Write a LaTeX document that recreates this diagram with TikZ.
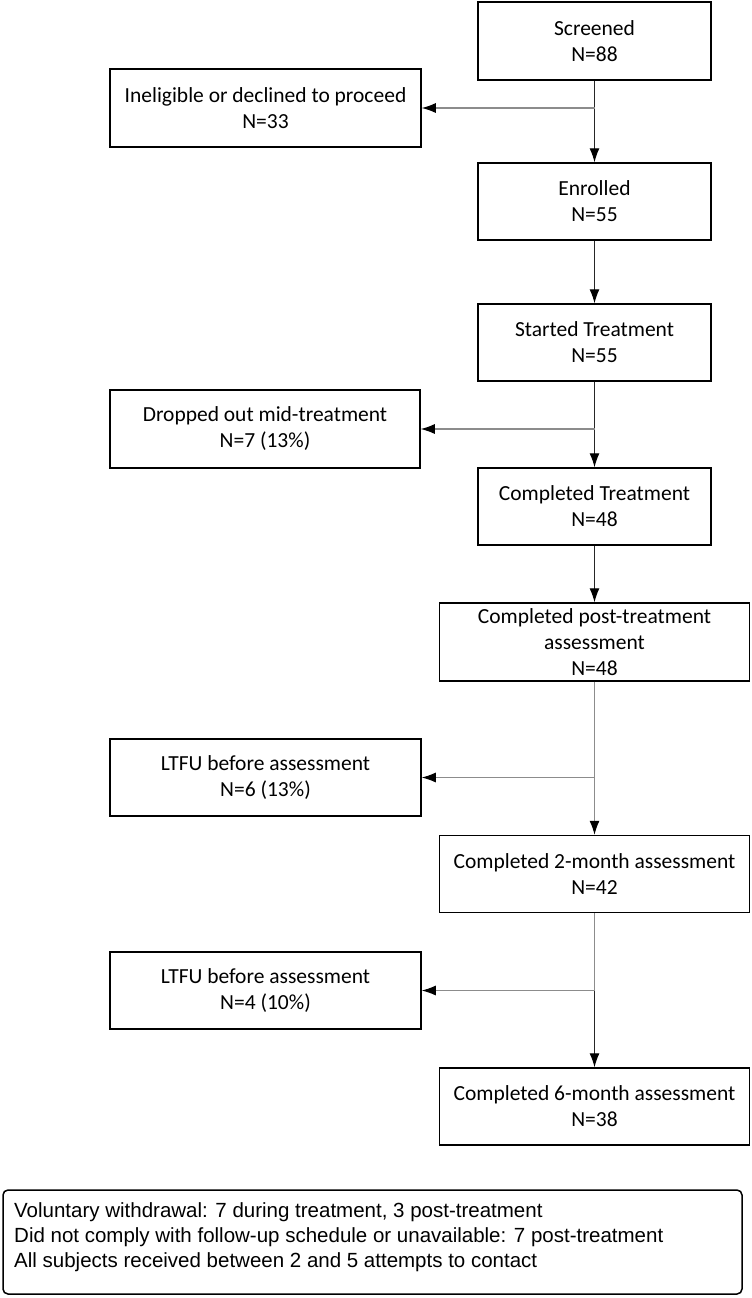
\documentclass[tikz,border=0pt]{standalone}
\usepackage{fontspec}
\setmainfont{Carlito}
\newfontfamily\notefont{Liberation Sans}
\usetikzlibrary{arrows.meta}
\tikzset{
  box/.style={draw=black, line width=1.5pt, fill=white, align=center, inner sep=0pt,
    font=\fontsize{21.5}{26}\selectfont},
  arr/.style={draw=black!85, line width=1.1pt, -{Latex[length=14pt,width=10pt,color=black]}},
  garr/.style={draw=black!45, line width=1.1pt, -{Latex[length=14pt,width=10pt,color=black]}},
  gline/.style={draw=black!45, line width=1.1pt},
  notebox/.style={draw=black, line width=1.5pt, rounded corners=5pt, inner sep=0pt,
    minimum width=739pt, minimum height=104pt},
  notetext/.style={align=left, inner sep=0pt, anchor=north west,
    font=\notefont\fontsize{20.5}{25}\selectfont}
}
\begin{document}
\begin{tikzpicture}[x=1pt,y=-1pt]
\useasboundingbox (0,0) rectangle (752,1298);
\fill[white] (0,0) rectangle (752,1298);

\node[box, minimum width=233pt, minimum height=78pt] (screened) at (594.5,41) {Screened\\N=88};
\node[box, minimum width=311pt, minimum height=78pt] (inelig) at (265.5,108) {Ineligible or declined to proceed\\N=33};
\node[box, minimum width=233pt, minimum height=77pt] (enrolled) at (594.5,201.5) {Enrolled\\N=55};
\node[box, minimum width=233pt, minimum height=77pt] (started) at (594.5,342.5) {Started Treatment\\N=55};
\node[box, minimum width=310pt, minimum height=78pt] (dropped) at (265,429) {Dropped out mid-treatment\\N=7 (13\%)};
\node[box, minimum width=233pt, minimum height=77pt] (comptreat) at (594.5,506.5) {Completed Treatment\\N=48};
\node[box, minimum width=310pt, minimum height=78pt] (post) at (594.5,642) {Completed post-treatment\\assessment\\N=48};
\node[box, minimum width=311pt, minimum height=77pt] (ltfua) at (265.5,777.5) {LTFU before assessment\\N=6 (13\%)};
\node[box, minimum width=310pt, minimum height=77pt] (twomonth) at (594.5,874) {Completed 2-month assessment\\N=42};
\node[box, minimum width=311pt, minimum height=77pt] (ltfub) at (265.5,990.5) {LTFU before assessment\\N=4 (10\%)};
\node[box, minimum width=310pt, minimum height=77pt] (sixmonth) at (594.5,1106.5) {Completed 6-month assessment\\N=38};

\node[notebox] (note) at (372.5,1242) {};
\node[notetext] (notetxt) at (14,1202) {Voluntary withdrawal: 7 during treatment, 3 post-treatment\\Did not comply with follow-up schedule or unavailable: 7 post-treatment\\All subjects received between 2 and 5 attempts to contact};

\coordinate (ja) at (screened.south |- inelig.east);
\coordinate (jb) at (started.south |- dropped.east);
\coordinate (jc) at (post.south |- ltfua.east);
\coordinate (jd) at (twomonth.south |- ltfub.east);

\draw[arr] (screened.south) -- (enrolled.north);
\draw[garr] (ja) -- (inelig.east);
\draw[arr] (enrolled.south) -- (started.north);
\draw[arr] (started.south) -- (comptreat.north);
\draw[garr] (jb) -- (dropped.east);
\draw[arr] (comptreat.south) -- (post.north);
\draw[garr] (post.south) -- (twomonth.north);
\draw[garr] (jc) -- (ltfua.east);
\draw[gline] (twomonth.south) -- (jd);
\draw[arr] (jd) -- (sixmonth.north);
\draw[garr] (jd) -- (ltfub.east);
\end{tikzpicture}
\end{document}
